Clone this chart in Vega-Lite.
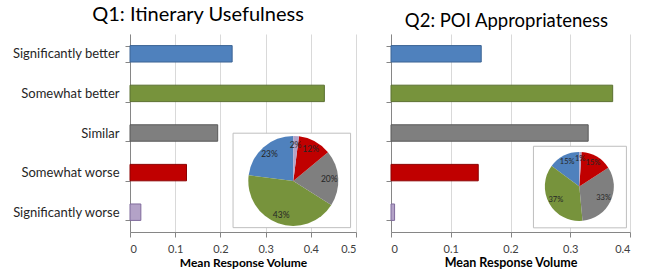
{
  "$schema": "https://vega.github.io/schema/vega-lite/v6.json",
  "padding": {"left": 12, "top": 5, "right": 5, "bottom": 2},
  "bounds": "flush",
  "spacing": 35,
  "config": {
    "font": "Lato",
    "view": {"stroke": null},
    "title": {"fontSize": 20, "fontWeight": "normal", "color": "#000000", "offset": 3},
    "axisX": {
      "grid": true, "gridColor": "#D9D9D9", "domainColor": "#868686", "tickColor": "#868686",
      "tickSize": 5, "labelColor": "#404040", "labelFontSize": 11, "labelPadding": 6,
      "titleFontWeight": "bold", "titleColor": "#000000", "titlePadding": 3
    },
    "axisY": {
      "grid": false, "domainColor": "#868686", "tickColor": "#868686", "tickSize": 5,
      "labelColor": "#262626", "labelFontSize": 13, "labelPadding": 6, "tickBand": "extent"
    }
  },
  "hconcat": [
    {
      "width": 226,
      "height": 198,
      "title": {"text": "Q1: Itinerary Usefulness", "dx": -45},
      "data": {
        "values": [
          {"cat": "Significantly better", "value": 0.226, "pct": 23, "label": "23%", "ord": 5},
          {"cat": "Somewhat better", "value": 0.430, "pct": 43, "label": "43%", "ord": 4},
          {"cat": "Similar", "value": 0.194, "pct": 20, "label": "20%", "ord": 3},
          {"cat": "Somewhat worse", "value": 0.125, "pct": 12, "label": "12%", "ord": 2},
          {"cat": "Significantly worse", "value": 0.024, "pct": 2, "label": "2%", "ord": 1}
        ]
      },
      "resolve": {"scale": {"x": "independent", "y": "independent"}},
      "layer": [
        {
          "mark": {"type": "bar", "strokeWidth": 1},
          "encoding": {
            "y": {"field": "cat", "type": "nominal",
              "sort": ["Significantly better", "Somewhat better", "Similar", "Somewhat worse", "Significantly worse"],
              "scale": {"paddingInner": 0.585, "paddingOuter": 0.2925},
              "axis": {"title": null}},
            "x": {"field": "value", "type": "quantitative",
              "scale": {"domain": [0, 0.5], "nice": false},
              "axis": {"values": [0, 0.1, 0.2, 0.3, 0.4, 0.5], "format": "~g", "title": "Mean Response Volume", "titleFontSize": 12}},
            "color": {"field": "cat", "type": "nominal",
              "scale": {"domain": ["Significantly better", "Somewhat better", "Similar", "Somewhat worse", "Significantly worse"],
                "range": ["#4F81BD", "#77933C", "#7F7F7F", "#C00000", "#B3A2C7"]},
              "legend": null},
            "stroke": {"field": "cat", "type": "nominal",
              "scale": {"domain": ["Significantly better", "Somewhat better", "Similar", "Somewhat worse", "Significantly worse"],
                "range": ["#3C6494", "#5A7030", "#595959", "#8C0000", "#7F6A9C"]},
              "legend": null}
          }
        },
        {
          "data": {"values": [{"box": "inset"}]},
          "mark": {"type": "rect", "fill": "#FFFFFF", "stroke": "#BFBFBF", "strokeWidth": 1},
          "encoding": {
            "x": {"datum": 0.456, "type": "quantitative", "scale": {"domain": [0, 1], "nice": false, "zero": false}, "axis": null},
            "x2": {"datum": 0.976},
            "y": {"datum": 0.022, "type": "quantitative", "scale": {"domain": [0, 1], "nice": false, "zero": false}, "axis": null},
            "y2": {"datum": 0.499}
          }
        },
        {
          "mark": {"type": "arc", "outerRadius": 45},
          "encoding": {
            "theta": {"field": "pct", "type": "quantitative", "stack": true},
            "order": {"field": "ord", "type": "quantitative"},
            "color": {"field": "cat", "type": "nominal", "legend": null},
            "x": {"datum": 0.7226, "type": "quantitative", "scale": {"domain": [0, 1], "nice": false, "zero": false}, "axis": null},
            "y": {"datum": 0.258, "type": "quantitative", "scale": {"domain": [0, 1], "nice": false, "zero": false}, "axis": null}
          }
        },
        {
          "mark": {"type": "text", "radius": 36, "fontSize": 8.5, "color": "#262626"},
          "encoding": {
            "theta": {"field": "pct", "type": "quantitative", "stack": true},
            "order": {"field": "ord", "type": "quantitative"},
            "text": {"field": "label"},
            "x": {"datum": 0.7226, "type": "quantitative", "scale": {"domain": [0, 1], "nice": false, "zero": false}, "axis": null},
            "y": {"datum": 0.258, "type": "quantitative", "scale": {"domain": [0, 1], "nice": false, "zero": false}, "axis": null}
          }
        }
      ]
    },
    {
      "width": 239,
      "height": 198,
      "title": {"text": "Q2: POI Appropriateness", "dx": -4, "fontSize": 18.5, "offset": 4},
      "data": {
        "values": [
          {"cat": "Significantly better", "value": 0.151, "pct": 15, "label": "15%", "ord": 5},
          {"cat": "Somewhat better", "value": 0.371, "pct": 37, "label": "37%", "ord": 4},
          {"cat": "Similar", "value": 0.330, "pct": 33, "label": "33%", "ord": 3},
          {"cat": "Somewhat worse", "value": 0.146, "pct": 15, "label": "15%", "ord": 2},
          {"cat": "Significantly worse", "value": 0.006, "pct": 1, "label": "1%", "ord": 1}
        ]
      },
      "resolve": {"scale": {"x": "independent", "y": "independent"}},
      "layer": [
        {
          "mark": {"type": "bar", "strokeWidth": 1},
          "encoding": {
            "y": {"field": "cat", "type": "nominal",
              "sort": ["Significantly better", "Somewhat better", "Similar", "Somewhat worse", "Significantly worse"],
              "scale": {"paddingInner": 0.585, "paddingOuter": 0.2925},
              "axis": {"title": null, "labels": false}},
            "x": {"field": "value", "type": "quantitative",
              "scale": {"domain": [0, 0.4], "nice": false},
              "axis": {"values": [0, 0.1, 0.2, 0.3, 0.4], "format": "~g", "title": "Mean Response Volume", "titleFontSize": 12.5, "titlePadding": 2}},
            "color": {"field": "cat", "type": "nominal", "legend": null},
            "stroke": {"field": "cat", "type": "nominal", "legend": null}
          }
        },
        {
          "data": {"values": [{"box": "inset"}]},
          "mark": {"type": "rect", "fill": "#FFFFFF", "stroke": "#BFBFBF", "strokeWidth": 1},
          "encoding": {
            "x": {"datum": 0.596, "type": "quantitative", "scale": {"domain": [0, 1], "nice": false, "zero": false}, "axis": null},
            "x2": {"datum": 0.985},
            "y": {"datum": 0.021, "type": "quantitative", "scale": {"domain": [0, 1], "nice": false, "zero": false}, "axis": null},
            "y2": {"datum": 0.433}
          }
        },
        {
          "mark": {"type": "arc", "outerRadius": 34.5},
          "encoding": {
            "theta": {"field": "pct", "type": "quantitative", "stack": true},
            "order": {"field": "ord", "type": "quantitative"},
            "color": {"field": "cat", "type": "nominal", "legend": null},
            "x": {"datum": 0.788, "type": "quantitative", "scale": {"domain": [0, 1], "nice": false, "zero": false}, "axis": null},
            "y": {"datum": 0.230, "type": "quantitative", "scale": {"domain": [0, 1], "nice": false, "zero": false}, "axis": null}
          }
        },
        {
          "mark": {"type": "text", "radius": 27, "fontSize": 7.5, "color": "#262626"},
          "encoding": {
            "theta": {"field": "pct", "type": "quantitative", "stack": true},
            "order": {"field": "ord", "type": "quantitative"},
            "text": {"field": "label"},
            "x": {"datum": 0.788, "type": "quantitative", "scale": {"domain": [0, 1], "nice": false, "zero": false}, "axis": null},
            "y": {"datum": 0.230, "type": "quantitative", "scale": {"domain": [0, 1], "nice": false, "zero": false}, "axis": null}
          }
        }
      ]
    }
  ]
}
